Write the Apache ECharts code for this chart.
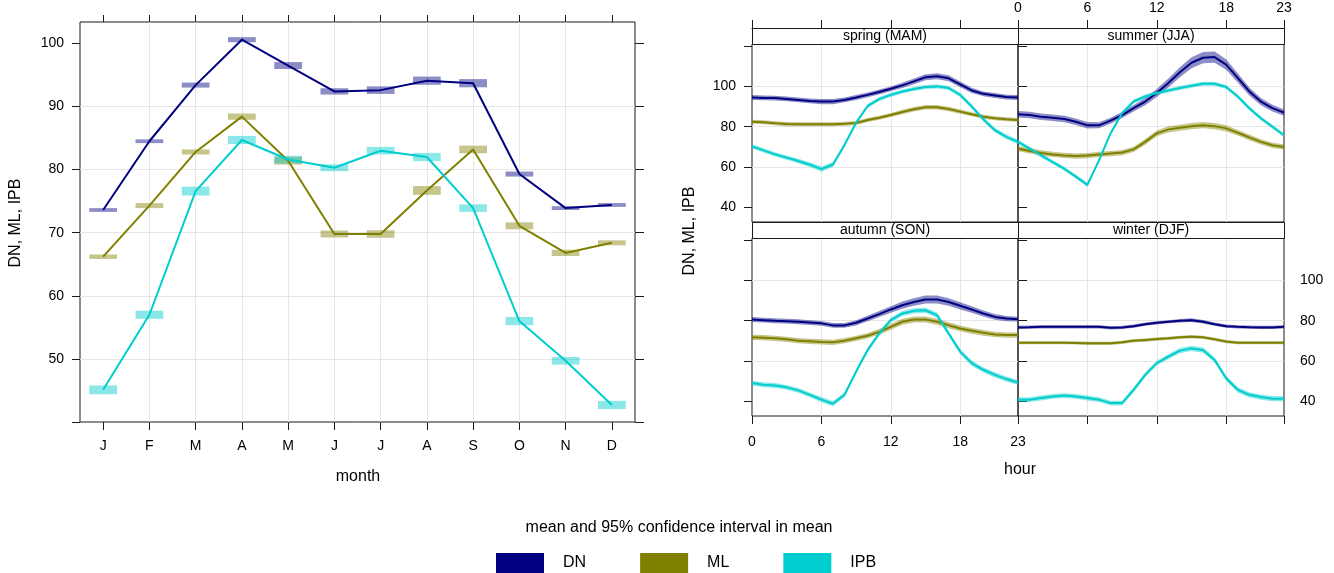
<!DOCTYPE html>
<html>
<head>
<meta charset="utf-8">
<script src="https://cdn.jsdelivr.net/npm/echarts@6/dist/echarts.min.js"></script>
<style>
  html, body { margin: 0; padding: 0; background: #fff; }
  #chart { width: 1334px; height: 573px; }
</style>
</head>
<body>
<div id="chart"></div>
<script>
// ---- data ----
const months = ["J", "F", "M", "A", "M", "J", "J", "A", "S", "O", "N", "D"];
const monthPos = [1, 2, 3, 4, 5, 6, 7, 8, 9, 10, 11, 12];
const sites = ["DN", "ML", "IPB"];
const siteColors = ["#000080", "#808000", "#00CDCD"];

const dnMonth = [73.6, 84.5, 93.4, 100.6, 96.5, 92.4, 92.6, 94.1, 93.7, 79.3, 73.9, 74.4];
const mlMonth = [66.2, 74.3, 82.8, 88.4, 81.4, 69.8, 69.8, 76.7, 83.2, 71.1, 66.8, 68.4];
const ipbMonth = [45.1, 57.0, 76.6, 84.7, 81.6, 80.3, 83.0, 82.0, 73.9, 56.0, 49.7, 42.7];
const dnMonthCi = [0.3, 0.3, 0.4, 0.4, 0.55, 0.5, 0.6, 0.65, 0.65, 0.4, 0.3, 0.3];
const mlMonthCi = [0.35, 0.4, 0.4, 0.5, 0.6, 0.55, 0.6, 0.7, 0.6, 0.55, 0.5, 0.4];
const ipbMonthCi = [0.7, 0.65, 0.7, 0.65, 0.6, 0.55, 0.6, 0.65, 0.6, 0.65, 0.6, 0.65];

const hours = [0, 1, 2, 3, 4, 5, 6, 7, 8, 9, 10, 11, 12, 13, 14, 15, 16, 17, 18, 19, 20, 21, 22, 23];
const hourTicks = [0, 6, 12, 18, 23];
const seasonLabels = ["spring (MAM)", "summer (JJA)", "autumn (SON)", "winter (DJF)"];

const springDN = [94.5, 94.3, 94.2, 93.8, 93.3, 92.8, 92.5, 92.5, 93.3, 94.5, 95.8, 97.2, 98.8, 100.5, 102.5, 104.5, 105.0, 104.0, 101.0, 98.0, 96.3, 95.5, 94.7, 94.5];
const springML = [82.5, 82.2, 81.7, 81.3, 81.2, 81.2, 81.2, 81.2, 81.5, 81.9, 83.3, 84.5, 85.8, 87.3, 88.7, 89.7, 89.7, 88.8, 87.5, 86.2, 85.0, 84.2, 83.7, 83.3];
const springIPB = [70.3, 68.3, 66.3, 64.7, 63.0, 61.2, 59.0, 61.3, 71.0, 82.0, 90.3, 93.7, 95.8, 97.5, 98.7, 99.7, 100.0, 99.2, 95.8, 90.0, 83.7, 78.3, 75.0, 72.5];
const summerDN = [86.2, 85.8, 85.0, 84.5, 83.8, 82.5, 80.7, 80.7, 83.0, 85.8, 89.2, 92.5, 96.7, 101.7, 107.0, 111.7, 114.2, 114.5, 110.8, 104.2, 97.5, 92.5, 89.2, 87.0];
const summerML = [69.2, 68.0, 67.0, 66.3, 65.8, 65.5, 65.7, 66.3, 66.7, 67.2, 68.8, 72.5, 76.7, 78.7, 79.5, 80.3, 80.8, 80.3, 79.2, 77.0, 74.7, 72.5, 70.8, 70.0];
const summerIPB = [72.5, 69.2, 65.8, 62.5, 59.2, 55.3, 51.2, 63.3, 76.7, 86.7, 92.5, 95.0, 96.7, 98.0, 99.2, 100.3, 101.3, 101.3, 99.7, 95.0, 89.2, 84.2, 80.0, 75.8];
const autumnDN = [80.6, 80.3, 80.0, 79.8, 79.5, 79.1, 78.7, 77.7, 77.7, 79.0, 81.1, 83.3, 85.6, 87.7, 89.3, 90.5, 90.5, 89.3, 87.4, 85.6, 83.6, 81.9, 81.1, 80.8];
const autumnML = [71.8, 71.6, 71.3, 70.8, 70.1, 69.8, 69.5, 69.3, 70.1, 71.3, 72.6, 74.5, 77.0, 79.5, 80.6, 80.6, 79.5, 77.8, 76.2, 75.0, 74.0, 73.2, 72.9, 72.9];
const autumnIPB = [49.1, 48.3, 47.9, 47.0, 45.5, 43.3, 40.9, 38.9, 43.3, 54.8, 65.5, 73.7, 80.3, 83.6, 84.9, 85.2, 82.8, 73.7, 64.7, 59.0, 55.7, 53.2, 51.1, 49.4];
const winterDN = [76.7, 76.8, 77.0, 77.0, 77.0, 77.0, 77.0, 77.0, 76.5, 76.7, 77.3, 78.3, 79.0, 79.5, 80.0, 80.3, 79.5, 78.3, 77.3, 77.0, 76.8, 76.7, 76.7, 77.0];
const winterML = [69.1, 69.1, 69.1, 69.1, 69.1, 69.0, 68.8, 68.8, 68.8, 69.3, 70.1, 70.4, 70.9, 71.3, 71.8, 72.1, 71.8, 70.8, 69.7, 69.1, 69.1, 69.1, 69.1, 69.1];
const winterIPB = [40.9, 40.9, 41.7, 42.5, 42.9, 42.5, 41.7, 40.9, 39.2, 39.2, 45.8, 53.2, 59.0, 62.2, 65.2, 66.3, 65.5, 60.6, 51.5, 45.8, 43.3, 42.2, 41.4, 41.4];

// half-width of the 95% confidence interval
const springDNci = [1.2, 1.2, 1.2, 1.2, 1.2, 1.2, 1.3, 1.3, 1.2, 1.2, 1.2, 1.2, 1.2, 1.3, 1.4, 1.5, 1.5, 1.5, 1.4, 1.3, 1.2, 1.2, 1.2, 1.2];
const springMLci = [1.0, 1.0, 1.0, 1.0, 1.0, 1.0, 1.0, 1.0, 1.0, 1.0, 1.0, 1.0, 1.0, 1.1, 1.1, 1.1, 1.1, 1.1, 1.0, 1.0, 1.0, 1.0, 1.0, 1.0];
const springIPBci = [1.1, 1.1, 1.1, 1.1, 1.1, 1.2, 1.3, 1.2, 1.1, 1.0, 1.0, 1.0, 1.0, 1.0, 1.0, 1.0, 1.0, 1.0, 1.0, 1.1, 1.1, 1.2, 1.2, 1.2];
const summerDNci = [1.6, 1.6, 1.6, 1.6, 1.6, 1.6, 1.6, 1.5, 1.5, 1.5, 1.6, 1.8, 2.0, 2.2, 2.5, 2.7, 2.8, 2.8, 2.6, 2.3, 2.0, 1.8, 1.7, 1.6];
const summerMLci = [1.3, 1.3, 1.3, 1.3, 1.3, 1.3, 1.3, 1.3, 1.3, 1.3, 1.3, 1.4, 1.4, 1.5, 1.5, 1.5, 1.5, 1.5, 1.5, 1.4, 1.4, 1.3, 1.3, 1.3];
const summerIPBci = [1.0, 1.0, 1.0, 1.0, 1.0, 1.0, 1.1, 1.0, 1.0, 1.0, 1.0, 1.0, 1.0, 1.0, 1.0, 1.0, 1.0, 1.0, 1.0, 1.0, 1.0, 1.0, 1.0, 1.0];
const autumnDNci = [1.2, 1.2, 1.2, 1.2, 1.2, 1.2, 1.2, 1.2, 1.2, 1.3, 1.4, 1.5, 1.6, 1.8, 1.9, 2.0, 2.0, 1.9, 1.8, 1.6, 1.5, 1.4, 1.3, 1.2];
const autumnMLci = [1.3, 1.3, 1.3, 1.3, 1.3, 1.3, 1.3, 1.3, 1.3, 1.3, 1.3, 1.4, 1.5, 1.5, 1.5, 1.5, 1.5, 1.5, 1.4, 1.4, 1.4, 1.3, 1.3, 1.3];
const autumnIPBci = [1.2, 1.2, 1.2, 1.2, 1.2, 1.2, 1.3, 1.3, 1.2, 1.2, 1.2, 1.2, 1.2, 1.2, 1.3, 1.3, 1.3, 1.3, 1.3, 1.3, 1.3, 1.3, 1.3, 1.3];
const winterDNci = [0.8, 0.8, 0.8, 0.8, 0.8, 0.8, 0.8, 0.8, 0.8, 0.8, 0.8, 0.8, 0.8, 0.8, 0.9, 0.9, 0.9, 0.8, 0.8, 0.8, 0.8, 0.8, 0.8, 0.8];
const winterMLci = [0.8, 0.8, 0.8, 0.8, 0.8, 0.8, 0.8, 0.8, 0.8, 0.8, 0.8, 0.8, 0.8, 0.8, 0.8, 0.8, 0.8, 0.8, 0.8, 0.8, 0.8, 0.8, 0.8, 0.8];
const winterIPBci = [1.2, 1.2, 1.2, 1.2, 1.2, 1.2, 1.2, 1.2, 1.2, 1.2, 1.2, 1.2, 1.2, 1.2, 1.3, 1.3, 1.3, 1.3, 1.3, 1.3, 1.3, 1.3, 1.3, 1.3];

const monthMeans = [dnMonth, mlMonth, ipbMonth];
const monthCis = [dnMonthCi, mlMonthCi, ipbMonthCi];
const seasonMeans = [
  [springDN, springML, springIPB],
  [summerDN, summerML, summerIPB],
  [autumnDN, autumnML, autumnIPB],
  [winterDN, winterML, winterIPB],
];
const seasonCis = [
  [springDNci, springMLci, springIPBci],
  [summerDNci, summerMLci, summerIPBci],
  [autumnDNci, autumnMLci, autumnIPBci],
  [winterDNci, winterMLci, winterIPBci],
];

// ---- layout ----
const FONT = "'Liberation Sans', Arial, sans-serif";
const INK = "#1a1a1a";
const GRIDLINE = "#e6e6e6";
const BAND_OPACITY = 0.45;

const panelLeft = [752, 1018, 752, 1018];
const panelTop = [44, 44, 238, 238];
const panelW = 266;
const panelH = 178;
const stripH = 16;

const chart = echarts.init(document.getElementById("chart"), null, { renderer: "canvas" });

function tickCfg(length, values) {
  return { show: true, length: length, customValues: values, lineStyle: { color: INK, width: 1 } };
}
function labelCfg(values, margin, formatter) {
  return {
    show: true,
    customValues: values,
    margin: margin,
    color: "#000",
    fontFamily: FONT,
    fontSize: 14,
    formatter: formatter,
  };
}
const splitCfg = { show: true, showMinLine: false, showMaxLine: false, lineStyle: { color: GRIDLINE, width: 1 } };
const noSplit = { show: false };

const grids = [{ left: 80, top: 22, width: 555, height: 400, show: true, borderColor: INK, borderWidth: 1 }];
for (let i = 0; i < 4; i++) {
  grids.push({ left: panelLeft[i], top: panelTop[i], width: panelW, height: panelH, show: true, borderColor: INK, borderWidth: 1 });
}

const xAxes = [
  {
    gridIndex: 0, type: "value", position: "bottom", min: 0.5, max: 12.5,
    axisLine: { show: false }, axisTick: tickCfg(8, monthPos),
    axisLabel: labelCfg(monthPos, 17, (v) => months[Math.round(v) - 1]),
    splitLine: splitCfg,
  },
  {
    gridIndex: 0, type: "value", position: "top", min: 0.5, max: 12.5,
    axisLine: { show: false }, axisTick: tickCfg(7, monthPos), axisLabel: { show: false }, splitLine: noSplit,
  },
  {
    gridIndex: 1, type: "value", position: "top", offset: stripH, min: 0, max: 23,
    axisLine: { show: true, lineStyle: { color: INK } }, axisTick: tickCfg(8, hourTicks),
    axisLabel: { show: false }, splitLine: splitCfg,
  },
  {
    gridIndex: 2, type: "value", position: "top", offset: stripH, min: 0, max: 23,
    axisLine: { show: true, lineStyle: { color: INK } }, axisTick: tickCfg(8, hourTicks),
    axisLabel: labelCfg(hourTicks, 13), splitLine: splitCfg,
  },
  {
    gridIndex: 3, type: "value", position: "bottom", min: 0, max: 23,
    axisLine: { show: false }, axisTick: tickCfg(8, hourTicks),
    axisLabel: labelCfg(hourTicks, 19), splitLine: splitCfg,
  },
  {
    gridIndex: 4, type: "value", position: "bottom", min: 0, max: 23,
    axisLine: { show: false }, axisTick: tickCfg(8, hourTicks),
    axisLabel: { show: false }, splitLine: splitCfg,
  },
];

const leftYTicks = [40, 50, 60, 70, 80, 90, 100];
const leftYLabels = [50, 60, 70, 80, 90, 100];
const hourYTicks = [40, 60, 80, 100, 120];
const hourYLabels = [40, 60, 80, 100];

const yAxes = [
  {
    gridIndex: 0, type: "value", position: "left", min: 40, max: 103.4,
    axisLine: { show: false }, axisTick: tickCfg(8, leftYTicks),
    axisLabel: labelCfg(leftYLabels, 16), splitLine: splitCfg,
  },
  {
    gridIndex: 0, type: "value", position: "right", min: 40, max: 103.4,
    axisLine: { show: false }, axisTick: tickCfg(9, leftYTicks), axisLabel: { show: false }, splitLine: noSplit,
  },
  {
    gridIndex: 1, type: "value", position: "left", min: 32.8, max: 121,
    axisLine: { show: false }, axisTick: tickCfg(8, hourYTicks),
    axisLabel: labelCfg(hourYLabels, 16), splitLine: splitCfg,
  },
  {
    gridIndex: 2, type: "value", position: "right", min: 32.8, max: 121,
    axisLine: { show: false }, axisTick: tickCfg(9, hourYTicks),
    axisLabel: { show: false }, splitLine: splitCfg,
  },
  {
    gridIndex: 3, type: "value", position: "left", min: 32.8, max: 121,
    axisLine: { show: false }, axisTick: tickCfg(8, hourYTicks),
    axisLabel: { show: false }, splitLine: splitCfg,
  },
  {
    gridIndex: 4, type: "value", position: "right", min: 32.8, max: 121,
    axisLine: { show: false }, axisTick: tickCfg(9, hourYTicks),
    axisLabel: labelCfg(hourYLabels, 16), splitLine: splitCfg,
  },
];

const series = [];

// monthly panel: CI boxes and mean lines
sites.forEach((site, s) => {
  const color = siteColors[s];
  series.push({
    type: "custom",
    xAxisIndex: 0,
    yAxisIndex: 0,
    z: 2,
    silent: true,
    data: monthPos.map((m, i) => [m, monthMeans[s][i] - monthCis[s][i], monthMeans[s][i] + monthCis[s][i]]),
    encode: { x: 0, y: [1, 2] },
    renderItem: (params, api) => {
      const x = api.value(0);
      const a = api.coord([x - 0.3, api.value(1)]);
      const b = api.coord([x + 0.3, api.value(2)]);
      return {
        type: "rect",
        shape: { x: a[0], y: b[1], width: b[0] - a[0], height: Math.max(a[1] - b[1], 1) },
        style: { fill: color, opacity: BAND_OPACITY },
      };
    },
  });
});
sites.forEach((site, s) => {
  series.push({
    name: site,
    type: "line",
    xAxisIndex: 0,
    yAxisIndex: 0,
    z: 3,
    symbol: "none",
    color: siteColors[s],
    lineStyle: { width: 2, color: siteColors[s] },
    data: monthPos.map((m, i) => [m, monthMeans[s][i]]),
  });
});

// one polygon per band, built from all the hourly points of the series
function bandItem(color) {
  return (params, api) => {
    if (params.dataIndexInside !== 0) return null;
    const n = params.dataInsideLength;
    const upper = [];
    const lower = [];
    for (let i = 0; i < n; i++) {
      const x = api.value(0, i);
      upper.push(api.coord([x, api.value(2, i)]));
      lower.push(api.coord([x, api.value(1, i)]));
    }
    return {
      type: "polygon",
      shape: { points: upper.concat(lower.reverse()) },
      style: { fill: color, opacity: BAND_OPACITY },
    };
  };
}

// diurnal panels: CI bands and mean lines
for (let p = 0; p < 4; p++) {
  const axis = p + 2;
  sites.forEach((site, s) => {
    const mean = seasonMeans[p][s];
    const ci = seasonCis[p][s];
    series.push({
      type: "custom", xAxisIndex: axis, yAxisIndex: axis, z: 2, silent: true,
      clip: true,
      data: hours.map((h, i) => [h, mean[i] - ci[i], mean[i] + ci[i]]),
      encode: { x: 0, y: [1, 2] },
      renderItem: bandItem(siteColors[s]),
    });
  });
  sites.forEach((site, s) => {
    series.push({
      name: site, type: "line", xAxisIndex: axis, yAxisIndex: axis, z: 3,
      symbol: "none", color: siteColors[s],
      lineStyle: { width: 2, color: siteColors[s] },
      data: hours.map((h, i) => [h, seasonMeans[p][s][i]]),
    });
  });
}

// strips and free text
const graphics = [];
for (let p = 0; p < 4; p++) {
  graphics.push({
    type: "rect", z: 10, silent: true,
    shape: { x: panelLeft[p] + 0.5, y: panelTop[p] - stripH + 0.5, width: panelW, height: stripH },
    style: { fill: "#fff", stroke: INK, lineWidth: 1 },
  });
  graphics.push({
    type: "text", z: 11, silent: true,
    x: panelLeft[p] + panelW / 2, y: panelTop[p] - stripH / 2 + 0.5,
    style: { text: seasonLabels[p], font: "14px " + FONT, fill: "#000", align: "center", verticalAlign: "middle" },
  });
}
function freeText(text, x, y, rotate, size) {
  return {
    type: "text", silent: true, x: x, y: y, rotation: rotate ? Math.PI / 2 : 0,
    style: { text: text, font: size + "px " + FONT, fill: "#000", align: "center", verticalAlign: "middle" },
  };
}
graphics.push(freeText("DN, ML, IPB", 16, 223, true, 16));
graphics.push(freeText("month", 358, 477, false, 16));
graphics.push(freeText("DN, ML, IPB", 690, 231, true, 16));
graphics.push(freeText("hour", 1020, 470, false, 16));
graphics.push(freeText("mean and 95% confidence interval in mean", 679, 528, false, 16));

chart.setOption({
  animation: false,
  backgroundColor: "#fff",
  grid: grids,
  xAxis: xAxes,
  yAxis: yAxes,
  legend: {
    data: sites,
    left: 496,
    top: 553,
    padding: 0,
    icon: "rect",
    itemWidth: 48,
    itemHeight: 20,
    itemGap: 54,
    selectedMode: false,
    textStyle: { color: "#000", fontFamily: FONT, fontSize: 16, padding: [0, 0, 0, 14] },
  },
  graphic: graphics,
  series: series,
});
</script>
</body>
</html>
